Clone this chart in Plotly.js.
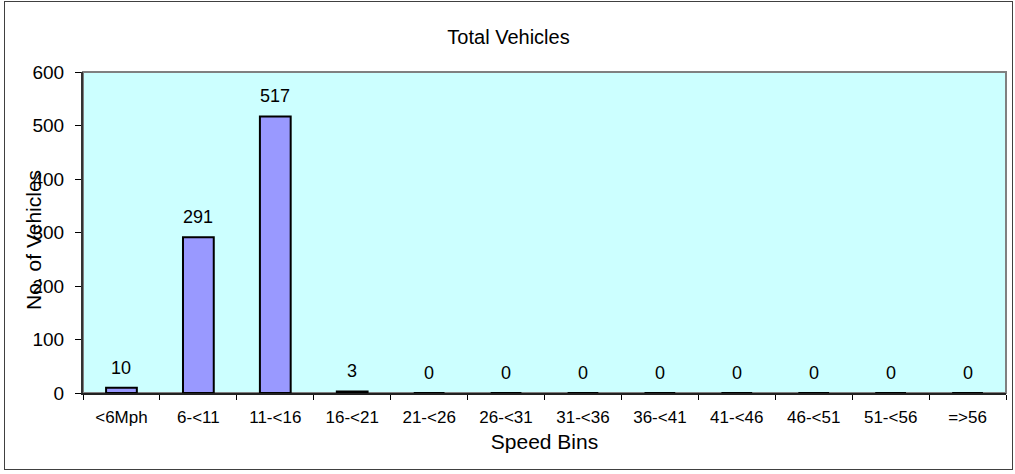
<!DOCTYPE html>
<html>
<head>
<meta charset="utf-8">
<script src="https://cdn.plot.ly/plotly-3.0.1.min.js"></script>
<style>
  html, body { margin: 0; padding: 0; background: #fff; }
  #frame { position: absolute; left: 4px; top: 1px; width: 1007px; height: 467px; border: 1px solid #404040; }
  #chart { width: 1007px; height: 467px; }
</style>
</head>
<body>
<div id="frame"><div id="chart"></div></div>
<script>
const categories = ["<6Mph", "6-<11", "11-<16", "16-<21", "21-<26", "26-<31", "31-<36", "36-<41", "41-<46", "46-<51", "51-<56", "=>56"];
const vehicles = [10, 291, 517, 3, 0, 0, 0, 0, 0, 0, 0, 0];
const yTicks = [0, 100, 200, 300, 400, 500, 600];
const chartTitle = "Total Vehicles";
const xTitle = "Speed Bins";
const yTitle = "No. of Vehicles";

const FONT = "Liberation Sans, Arial, sans-serif";

const trace = {
  type: "bar",
  x: categories,
  y: vehicles,
  width: 0.4,
  marker: { color: "#9999FF", line: { color: "#000000", width: 2 } },
  hoverinfo: "x+y"
};

const valueLabels = categories.map((c, i) => ({
  x: c, y: vehicles[i], xref: "x", yref: "y",
  text: String(vehicles[i]), showarrow: false,
  yanchor: "bottom", yshift: 8,
  font: { family: FONT, size: 18, color: "#000" }
}));

const layout = {
  width: 1007, height: 467,
  margin: { l: 78, r: 6, t: 70, b: 76 },
  paper_bgcolor: "#ffffff",
  plot_bgcolor: "#CCFFFF",
  showlegend: false,
  font: { family: FONT, color: "#000" },
  title: { text: chartTitle, x: 0.5, xref: "container", xanchor: "center",
           y: 0.926, yref: "container", yanchor: "middle",
           font: { family: FONT, size: 20, color: "#000" } },
  xaxis: {
    type: "category",
    tickson: "boundaries",
    ticks: "outside", ticklen: 5, tickcolor: "#000", tickwidth: 1,
    ticklabelstandoff: 8,
    showline: true, linecolor: "#222", linewidth: 2,
    showgrid: false, zeroline: false,
    tickfont: { family: FONT, size: 17, color: "#000" },
    title: { text: xTitle, standoff: 8, font: { family: FONT, size: 21, color: "#000" } },
    fixedrange: true
  },
  yaxis: {
    range: [0, 600],
    tickvals: yTicks,
    ticks: "outside", ticklen: 6, tickcolor: "#000", tickwidth: 1,
    ticklabelstandoff: 7,
    showline: true, linecolor: "#333", linewidth: 2,
    showgrid: false, zeroline: false,
    tickfont: { family: FONT, size: 19, color: "#000" },
    fixedrange: true
  },
  shapes: [{
    type: "rect", xref: "paper", yref: "paper", x0: 0, x1: 1, y0: 0, y1: 1,
    line: { color: "#808080", width: 2 }, layer: "below"
  }],
  annotations: valueLabels.concat([{
    text: yTitle, textangle: -90, showarrow: false,
    xref: "paper", yref: "paper", x: -0.053, y: 0.477,
    xanchor: "center", yanchor: "middle",
    font: { family: FONT, size: 21, color: "#000" }
  }])
};

Plotly.newPlot("chart", [trace], layout, { displayModeBar: false, staticPlot: true });
</script>
</body>
</html>
